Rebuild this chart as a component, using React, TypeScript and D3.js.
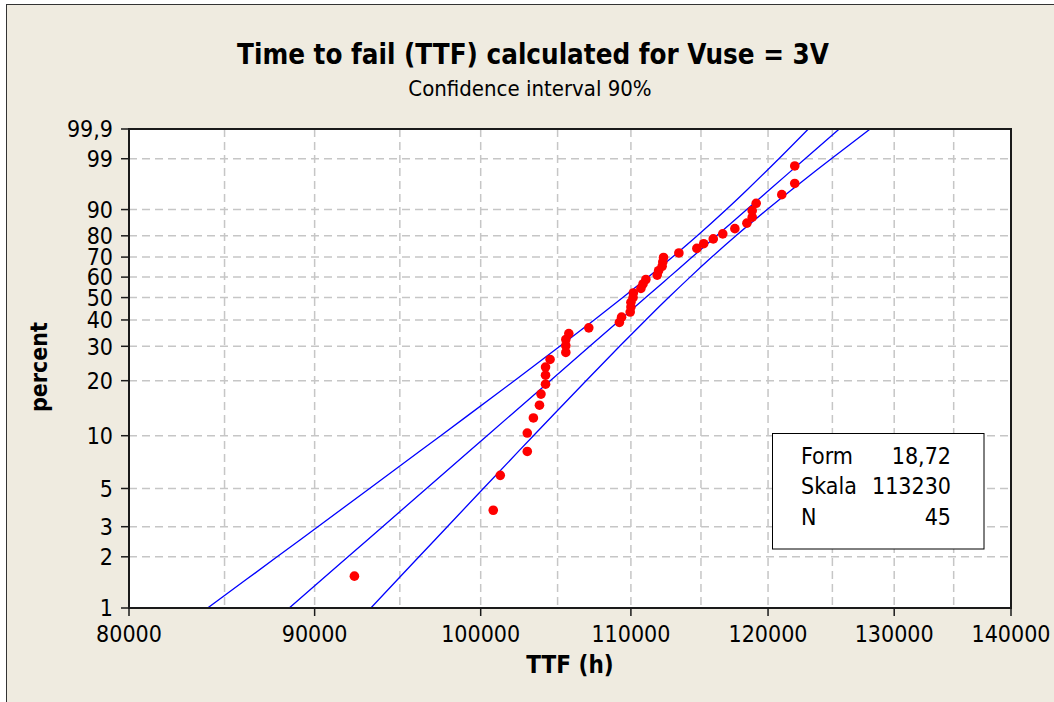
import React from 'react';
import * as d3 from 'd3';

const TITLE = 'Time to fail (TTF) calculated for Vuse = 3V';
const SUBTITLE = 'Confidence interval 90%';
const X_LABEL = 'TTF (h)';
const Y_LABEL = 'percent';

const xTicks = [80000, 90000, 100000, 110000, 120000, 130000, 140000];
const xGrid = [85000, 90000, 95000, 100000, 105000, 110000, 115000, 120000, 125000, 130000, 135000];
const yTicks = [1, 2, 3, 5, 10, 20, 30, 40, 50, 60, 70, 80, 90, 99, 99.9];
const yTickLabels = ['1', '2', '3', '5', '10', '20', '30', '40', '50', '60', '70', '80', '90', '99', '99,9'];
const yGrid = [2, 3, 5, 10, 20, 30, 40, 50, 60, 70, 80, 90, 99];

// failure times (h) and plotting positions (%)
const failTimes = [
  92300, 100800, 101250, 103000, 103000, 103400, 103800, 103900, 104200, 104200,
  104200, 104500, 105550, 105550, 105550, 105750, 107100, 109200, 109350, 109950,
  110000, 110000, 110150, 110170, 110700, 110850, 111050, 111850, 111950, 112200,
  112250, 112300, 113400, 114700, 115200, 115900, 116600, 117500, 118400, 118800,
  118800, 119100, 121050, 122050, 122050,
];
const failPercent = [
  1.54, 3.74, 5.95, 8.15, 10.35, 12.56, 14.76, 16.96, 19.16, 21.37,
  23.57, 25.77, 27.97, 30.18, 32.38, 34.58, 36.78, 38.99, 41.19, 43.39,
  45.59, 47.8, 50.0, 52.2, 54.41, 56.61, 58.81, 61.01, 63.22, 65.42,
  67.62, 69.82, 72.03, 74.23, 76.43, 78.63, 80.84, 83.04, 85.24, 87.44,
  89.65, 91.85, 94.05, 96.26, 98.46,
];

// fitted line and 90% confidence bounds
const bandPercent = [1, 2, 3, 5, 10, 20, 30, 40, 50, 60, 70, 80, 90, 95, 99, 99.9];
const fitTime = [88561, 91927, 93965, 96617, 100405, 104512, 107163, 109239, 111035, 112703, 114358, 116146, 118389, 120065, 122855, 125545];
const lowerTime = [84091, 87881, 90185, 93192, 97496, 102160, 105150, 107465, 109434, 111221, 112941, 114729, 116862, 118387, 120828, 123106];
const upperTime = [93269, 96159, 97903, 100168, 103400, 106918, 109214, 111043, 112660, 114204, 115792, 117581, 119936, 121767, 124915, 128032];

const legendLabels = ['Form', 'Skala', 'N'];
const legendValues = ['18,72', '113230', '45'];

const W = 1054;
const H = 702;
const L = 129;
const R = 1011;
const T = 129;
const B = 608;

const FONT = '"DejaVu Sans Condensed", "DejaVu Sans", sans-serif';

const wb = (p: number) => Math.log(-Math.log(1 - p / 100));

export default function App() {
  const x = d3.scaleLog().domain([80000, 140000]).range([L, R]);
  const y = d3.scaleLinear().domain([wb(1), wb(99.9)]).range([B, T]);

  const mkLine = (times: number[]) =>
    d3
      .line<number>()
      .x((_, i) => x(times[i]))
      .y((p) => y(wb(p)))
      .curve(d3.curveCatmullRom)(bandPercent) || '';

  const gridColor = '#c6c6c6';

  return (
    <svg
      width={W}
      height={H}
      style={{ position: 'absolute', left: 0, top: 0, background: '#ffffff' }}
      fontFamily={FONT}
    >
      <defs>
        <clipPath id="plotclip">
          <rect x={L} y={T} width={R - L} height={B - T} />
        </clipPath>
      </defs>
      <rect x={6.5} y={4.5} width={W + 10} height={H + 10} fill="#efebe0" stroke="#333" strokeWidth={1} />

      <text x={533} y={64} textAnchor="middle" fontSize={27.5} fontWeight="bold" fill="#000">
        {TITLE}
      </text>
      <text x={530} y={96} textAnchor="middle" fontSize={22} fill="#000">
        {SUBTITLE}
      </text>

      <rect x={L} y={T} width={R - L} height={B - T} fill="#ffffff" />

      {xGrid.map((v) => (
        <line
          key={'xg' + v}
          x1={x(v)}
          x2={x(v)}
          y1={T}
          y2={B}
          stroke={gridColor}
          strokeWidth={1.5}
          strokeDasharray="8,5"
        />
      ))}
      {yGrid.map((v) => (
        <line
          key={'yg' + v}
          x1={L}
          x2={R}
          y1={y(wb(v))}
          y2={y(wb(v))}
          stroke={gridColor}
          strokeWidth={1.5}
          strokeDasharray="8,5"
        />
      ))}

      <g clipPath="url(#plotclip)" fill="none" stroke="#0000ff" strokeWidth={1.3}>
        <path d={mkLine(lowerTime)} />
        <path d={mkLine(fitTime)} />
        <path d={mkLine(upperTime)} />
      </g>

      {failTimes.map((t, i) => (
        <circle key={'pt' + i} cx={x(t)} cy={y(wb(failPercent[i]))} r={4.8} fill="#ff0000" />
      ))}

      <rect x={L} y={T} width={R - L} height={B - T} fill="none" stroke="#1a1a1a" strokeWidth={2} />

      {yTicks.map((v, i) => (
        <g key={'yt' + v}>
          <line x1={L - 8} x2={L} y1={y(wb(v))} y2={y(wb(v))} stroke="#1a1a1a" strokeWidth={1.5} />
          <text x={113} y={y(wb(v))} dy="0.36em" textAnchor="end" fontSize={23} fill="#000">
            {yTickLabels[i]}
          </text>
        </g>
      ))}
      {xTicks.map((v) => (
        <g key={'xt' + v}>
          <line x1={x(v)} x2={x(v)} y1={B} y2={B + 8} stroke="#1a1a1a" strokeWidth={1.5} />
          <text x={x(v)} y={642} textAnchor="middle" fontSize={23} fill="#000">
            {String(v)}
          </text>
        </g>
      ))}

      <text x={(L + R) / 2} y={673} textAnchor="middle" fontSize={24} fontWeight="bold" fill="#000">
        {X_LABEL}
      </text>
      <text
        transform={`translate(47,367) rotate(-90)`}
        textAnchor="middle"
        fontSize={23}
        fontWeight="bold"
        fill="#000"
      >
        {Y_LABEL}
      </text>

      <rect x={772.5} y={433.5} width={211.5} height={115.5} fill="#ffffff" stroke="#000" strokeWidth={1} />
      {legendLabels.map((lab, i) => (
        <g key={'lg' + lab}>
          <text x={801} y={463.5 + i * 30.5} fontSize={23} fill="#000">
            {lab}
          </text>
          <text x={951} y={463.5 + i * 30.5} textAnchor="end" fontSize={23} fill="#000">
            {legendValues[i]}
          </text>
        </g>
      ))}
    </svg>
  );
}
